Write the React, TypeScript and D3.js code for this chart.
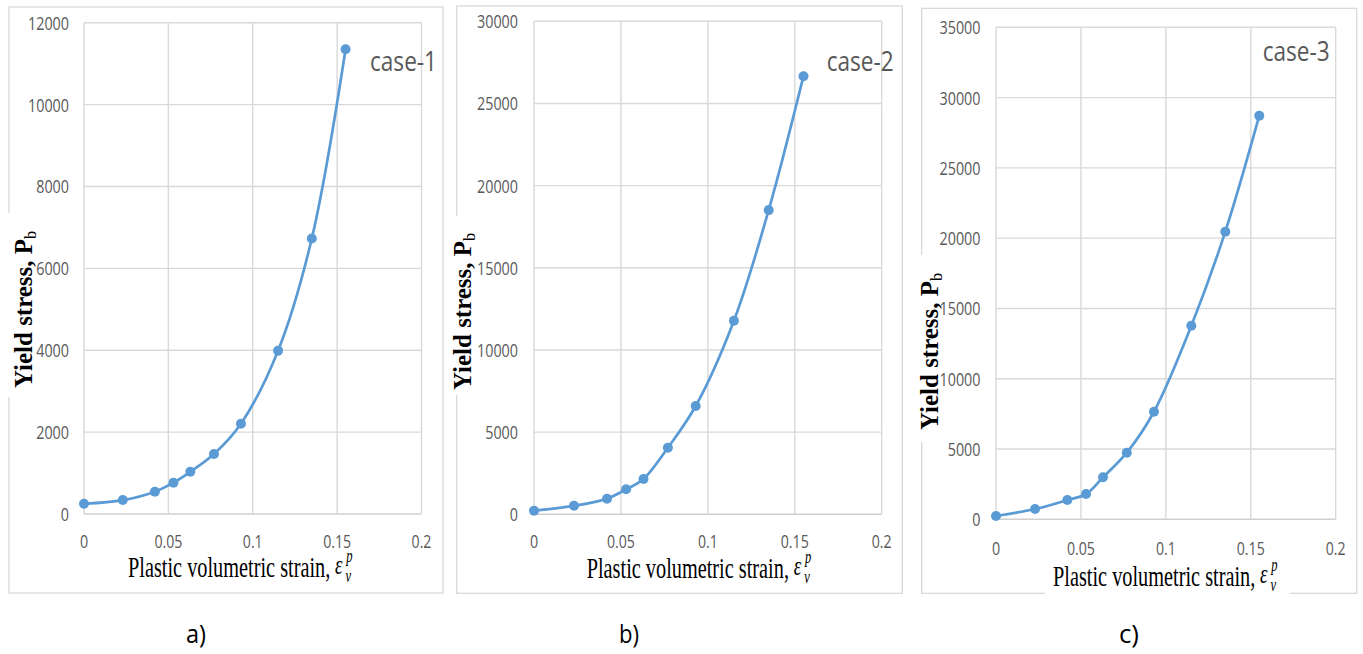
import React from "react";
import * as d3 from "d3";

// ---- data ----
const strain = [0, 0.023, 0.042, 0.053, 0.063, 0.077, 0.093, 0.115, 0.135, 0.155];
const case1 = [250, 340, 545, 765, 1030, 1465, 2205, 3990, 6730, 11350];
const case2 = [220, 520, 950, 1520, 2150, 4050, 6590, 11780, 18510, 26660];
const case3 = [235, 730, 1370, 1800, 2990, 4740, 7650, 13770, 20460, 28710];
const caseNames = ["case-1", "case-2", "case-3"];
const panelTags = ["a)", "b)", "c)"];
const yMaxes = [12000, 30000, 35000];
const ySteps = [2000, 5000, 5000];
const xTicks = [0, 0.05, 0.1, 0.15, 0.2];
const xTickLabels = ["0", "0.05", "0.1", "0.15", "0.2"];
const xTitle = "Plastic volumetric strain, ";
const yTitle = "Yield stress, P";

// ---- layout (styling only) ----
const layouts = [
  { frame: [9, 7, 434, 586], plot: { l: 84, r: 421.5, t: 22.7, b: 514 }, yTickRight: 69, xTickBase: 547.5,
    caseX: 370, caseY: 71, yl: { bx: 31.5, start: 388, gap: [213, 397] }, xl: { x: 128, base: 577, gap: null as null | number[] }, tagX: 196 },
  { frame: [456.7, 6, 445.6, 587.3], plot: { l: 534, r: 881.7, t: 21.3, b: 514.3 }, yTickRight: 518, xTickBase: 548,
    caseX: 826.7, caseY: 71, yl: { bx: 471, start: 390, gap: [216, 395] }, xl: { x: 586.7, base: 578, gap: null as null | number[] }, tagX: 629 },
  { frame: [921.7, 8.3, 435, 585], plot: { l: 996, r: 1335.7, t: 27.3, b: 519.3 }, yTickRight: 980.5, xTickBase: 555,
    caseX: 1262.7, caseY: 61, yl: { bx: 938, start: 430, gap: [255, 442] }, xl: { x: 1053, base: 586, gap: [1045, 1290] }, tagX: 1129 },
];

const BLUE = "#5b9bd5";
const GRID = "#d9d9d9";
const TICKC = "#595959";
const SANS = "'Open Sans', 'Noto Sans', sans-serif";
const SERIF = "'Liberation Serif', 'Times New Roman', serif";
const XSCALE = 0.7;

const tickWidth = (s: string) => s.split("").reduce((a, c) => a + (c === "." ? 3.4 : 8.2), 0);

function Panel({ i }: { i: number }) {
  const L = layouts[i];
  const values = [case1, case2, case3][i];
  const { l, r, t, b } = L.plot;
  const x = d3.scaleLinear().domain([0, 0.2]).range([l, r]);
  const y = d3.scaleLinear().domain([0, yMaxes[i]]).range([b, t]);
  const yTicks = d3.range(0, yMaxes[i] + 1, ySteps[i]);
  const pts = strain.map((s, k) => [x(s), y(values[k])] as [number, number]);
  const line = d3.line().curve(d3.curveCatmullRom.alpha(0.5))(pts) || "";
  const [fx, fy, fw, fh] = L.frame;
  const yl = L.yl;
  const xl = L.xl;
  const epsX = 207 / XSCALE;
  return (
    <g>
      {/* outer frame */}
      <rect x={fx} y={fy} width={fw} height={fh} fill="#fff" stroke="#d6d6d6" strokeWidth={1.2} />
      {/* grid */}
      {yTicks.map((v) => (
        <line key={"h" + v} x1={l} x2={r} y1={y(v)} y2={y(v)} stroke={v === 0 ? "#cfcfcf" : GRID} strokeWidth={1.4} />
      ))}
      {xTicks.map((v) => (
        <line key={"v" + v} x1={x(v)} x2={x(v)} y1={t} y2={b} stroke={GRID} strokeWidth={1.4} />
      ))}
      {/* y tick labels */}
      {yTicks.map((v) => {
        const s = String(v);
        return (
          <text key={"yt" + v} x={L.yTickRight} y={y(v) + 7} textAnchor="end" fontFamily={SANS} fontSize={19}
            fill={TICKC} textLength={tickWidth(s)} lengthAdjust="spacingAndGlyphs">{s}</text>
        );
      })}
      {/* x tick labels */}
      {xTicks.map((v, k) => {
        const s = xTickLabels[k];
        return (
          <text key={"xt" + v} x={x(v)} y={L.xTickBase} textAnchor="middle" fontFamily={SANS} fontSize={19}
            fill={TICKC} textLength={tickWidth(s)} lengthAdjust="spacingAndGlyphs">{s}</text>
        );
      })}
      {/* series */}
      <path d={line} fill="none" stroke={BLUE} strokeWidth={2.7} />
      {pts.map((p, k) => (
        <circle key={"m" + k} cx={p[0]} cy={p[1]} r={5} fill={BLUE} />
      ))}
      {/* case label */}
      <text x={L.caseX} y={L.caseY} fontFamily={SANS} fontSize={27} fill={TICKC}
        textLength={67} lengthAdjust="spacingAndGlyphs">{caseNames[i]}</text>
      {/* y title */}
      <rect x={fx - 3} y={yl.gap[0]} width={yl.bx - fx + 6} height={yl.gap[1] - yl.gap[0]} fill="#fff" />
      <text transform={`translate(${yl.bx},${yl.start}) rotate(-90) scale(0.96,1)`} fontFamily={SERIF}
        fontWeight="bold" fontSize={26} fill="#000">
        {yTitle}
        <tspan fontSize={17} fontWeight="normal" dy={4}>b</tspan>
      </text>
      {/* x title */}
      {xl.gap && <rect x={xl.gap[0]} y={fy + fh - 3} width={xl.gap[1] - xl.gap[0]} height={6} fill="#fff" />}
      <text transform={`translate(${xl.x},${xl.base}) scale(${XSCALE},1)`} fontFamily={SERIF} fontSize={29} fill="#000">
        <tspan x={0} y={0}>{xTitle}</tspan>
        <tspan x={epsX} y={-3} fontStyle="italic" fontSize={27}>ε</tspan>
        <tspan x={epsX + 16} y={-15} fontStyle="italic" fontSize={18}>p</tspan>
        <tspan x={epsX + 15} y={5} fontStyle="italic" fontSize={18}>v</tspan>
      </text>
      {/* panel tag */}
      <text x={L.tagX} y={643} textAnchor="middle" fontFamily={SANS} fontSize={25} fill="#000"
        textLength={20} lengthAdjust="spacingAndGlyphs">{panelTags[i]}</text>
    </g>
  );
}

export default function App() {
  return (
    <svg width={1363} height={654} style={{ position: "absolute", left: 0, top: 0, background: "#fff" }}>
      <rect x={0} y={0} width={1363} height={654} fill="#fff" />
      {[0, 1, 2].map((i) => (
        <Panel key={i} i={i} />
      ))}
    </svg>
  );
}
